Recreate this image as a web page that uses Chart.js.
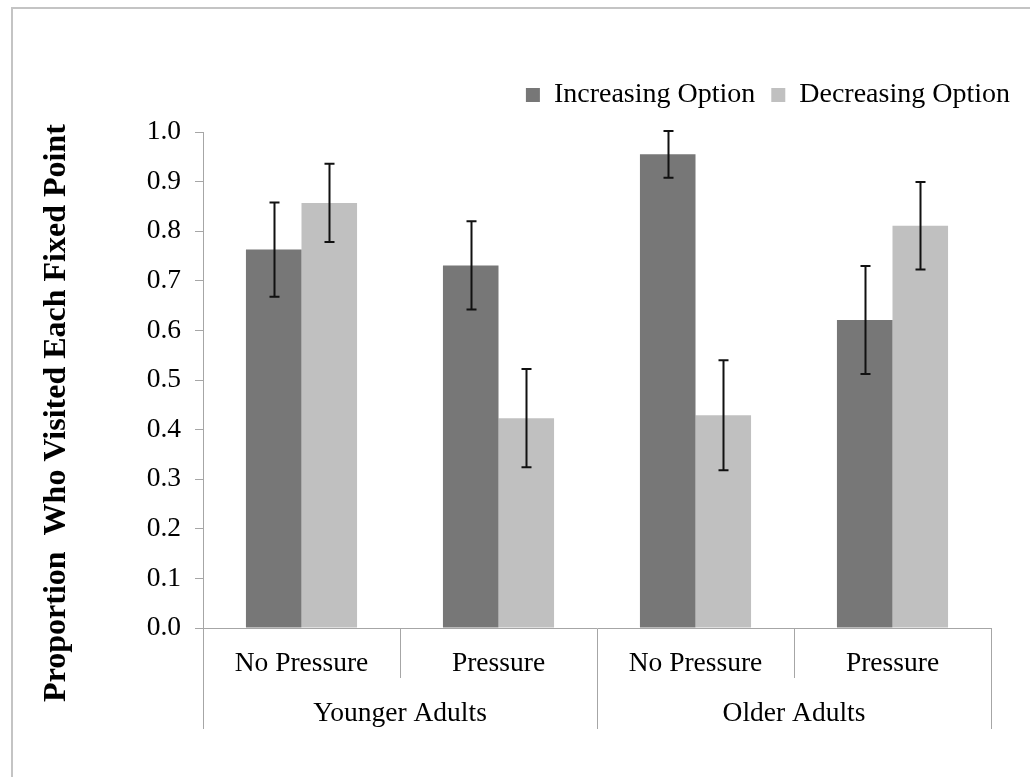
<!DOCTYPE html>
<html>
<head>
<meta charset="utf-8">
<title>Proportion Who Visited Each Fixed Point</title>
<script src="https://cdn.jsdelivr.net/npm/chart.js@4.4.1/dist/chart.umd.min.js"></script>
<style>
  html, body { margin: 0; padding: 0; background: #ffffff; }
  canvas { display: block; }
</style>
</head>
<body>
<canvas id="chart" width="1030" height="777"></canvas>
<script>
// Conditions (inner axis) and age groups (outer axis)
const conditions = ['No Pressure', 'Pressure', 'No Pressure', 'Pressure'];
const ageGroups = ['Younger Adults', 'Older Adults'];

// Proportions and their error half-widths
const increasing = [0.763, 0.731, 0.955, 0.621];
const increasingErr = [0.095, 0.089, 0.047, 0.109];
const decreasing = [0.857, 0.423, 0.429, 0.811];
const decreasingErr = [0.079, 0.099, 0.111, 0.088];

const yTicks = [0, 0.1, 0.2, 0.3, 0.4, 0.5, 0.6, 0.7, 0.8, 0.9, 1.0];

const SERIF = '"Liberation Serif", "Times New Roman", serif';
const AXIS_GRAY = '#a6a6a6';

// Light frame around the whole figure
const framePlugin = {
  id: 'frame',
  beforeDraw(chart) {
    const ctx = chart.ctx;
    ctx.save();
    ctx.strokeStyle = '#c4c4c4';
    ctx.lineWidth = 2;
    ctx.strokeRect(12, 8, chart.width + 40, chart.height + 40);
    ctx.restore();
  }
};

// Vertical error bars with caps, placed on each bar
const errorBarPlugin = {
  id: 'errorBars',
  afterDatasetsDraw(chart) {
    const ctx = chart.ctx;
    const y = chart.scales.y;
    ctx.save();
    ctx.strokeStyle = '#111111';
    ctx.lineWidth = 2;
    chart.data.datasets.forEach((ds, di) => {
      const meta = chart.getDatasetMeta(di);
      meta.data.forEach((bar, i) => {
        const v = ds.data[i];
        const e = ds.errors[i];
        const top = y.getPixelForValue(v + e);
        const bottom = y.getPixelForValue(v - e);
        const x = Math.round(bar.x) + 0.5;
        const cap = 5;
        ctx.beginPath();
        ctx.moveTo(x, top);
        ctx.lineTo(x, bottom);
        ctx.moveTo(x - cap, top);
        ctx.lineTo(x + cap, top);
        ctx.moveTo(x - cap, bottom);
        ctx.lineTo(x + cap, bottom);
        ctx.stroke();
      });
    });
    ctx.restore();
  }
};

// Rotated y-axis title
const yTitlePlugin = {
  id: 'yTitle',
  afterDraw(chart) {
    const ctx = chart.ctx;
    ctx.save();
    ctx.translate(57, 413);
    ctx.rotate(-Math.PI / 2);
    ctx.font = 'bold 32px ' + SERIF;
    ctx.fillStyle = '#000000';
    ctx.textAlign = 'center';
    ctx.textBaseline = 'middle';
    ctx.fillText('Proportion  Who Visited Each Fixed Point', 0, 0);
    ctx.restore();
  }
};

new Chart(document.getElementById('chart'), {
  type: 'bar',
  data: {
    labels: conditions,
    datasets: [
      {
        label: 'Increasing Option',
        data: increasing,
        errors: increasingErr,
        backgroundColor: '#777777',
        borderWidth: 0,
        categoryPercentage: 0.564,
        barPercentage: 1.0
      },
      {
        label: 'Decreasing Option',
        data: decreasing,
        errors: decreasingErr,
        backgroundColor: '#c0c0c0',
        borderWidth: 0,
        categoryPercentage: 0.564,
        barPercentage: 1.0
      }
    ]
  },
  options: {
    responsive: false,
    animation: false,
    layout: { padding: { left: 0, right: 4, top: 65, bottom: 48 } },
    plugins: {
      legend: {
        position: 'top',
        align: 'end',
        labels: {
          boxWidth: 14,
          boxHeight: 14,
          padding: 16,
          color: '#000000',
          font: { family: SERIF, size: 28 }
        }
      },
      tooltip: { enabled: false }
    },
    scales: {
      x: {
        type: 'category',
        position: 'bottom',
        offset: true,
        grid: {
          offset: true,
          drawOnChartArea: false,
          drawTicks: true,
          tickLength: 50,
          color: AXIS_GRAY,
          lineWidth: 1
        },
        border: { display: true, color: AXIS_GRAY, width: 1 },
        ticks: {
          color: '#000000',
          font: { family: SERIF, size: 27.5 },
          padding: -31,
          maxRotation: 0,
          autoSkip: false
        },
        afterFit(scale) { scale.height = 50; }
      },
      x2: {
        type: 'category',
        position: 'bottom',
        labels: ageGroups,
        offset: true,
        grid: {
          offset: true,
          drawOnChartArea: false,
          drawTicks: true,
          tickLength: 51,
          color: AXIS_GRAY,
          lineWidth: 1
        },
        border: { display: false },
        ticks: {
          color: '#000000',
          font: { family: SERIF, size: 27.5 },
          padding: -32,
          maxRotation: 0,
          autoSkip: false
        },
        afterFit(scale) { scale.height = 51; }
      },
      // empty band between the legend and the plot area
      topGap: {
        type: 'linear',
        position: 'top',
        display: true,
        grid: { display: false },
        border: { display: false },
        ticks: { display: false },
        afterFit(scale) { scale.height = 13; }
      },
      y: {
        type: 'linear',
        position: 'left',
        min: 0,
        max: 1,
        afterBuildTicks(scale) { scale.ticks = yTicks.map(v => ({ value: v })); },
        grid: {
          drawOnChartArea: false,
          drawTicks: true,
          tickLength: 8,
          color: AXIS_GRAY,
          lineWidth: 1
        },
        border: { display: true, color: AXIS_GRAY, width: 1 },
        ticks: {
          color: '#000000',
          font: { family: SERIF, size: 27.5 },
          padding: 14,
          callback: v => Number(v).toFixed(1)
        },
        afterFit(scale) { scale.width = 203; }
      },
      gutter: {
        type: 'linear',
        position: 'right',
        display: true,
        grid: { display: false },
        border: { display: false },
        ticks: { display: false },
        afterFit(scale) { scale.width = 35; }
      }
    }
  },
  plugins: [framePlugin, errorBarPlugin, yTitlePlugin]
});
</script>
</body>
</html>
